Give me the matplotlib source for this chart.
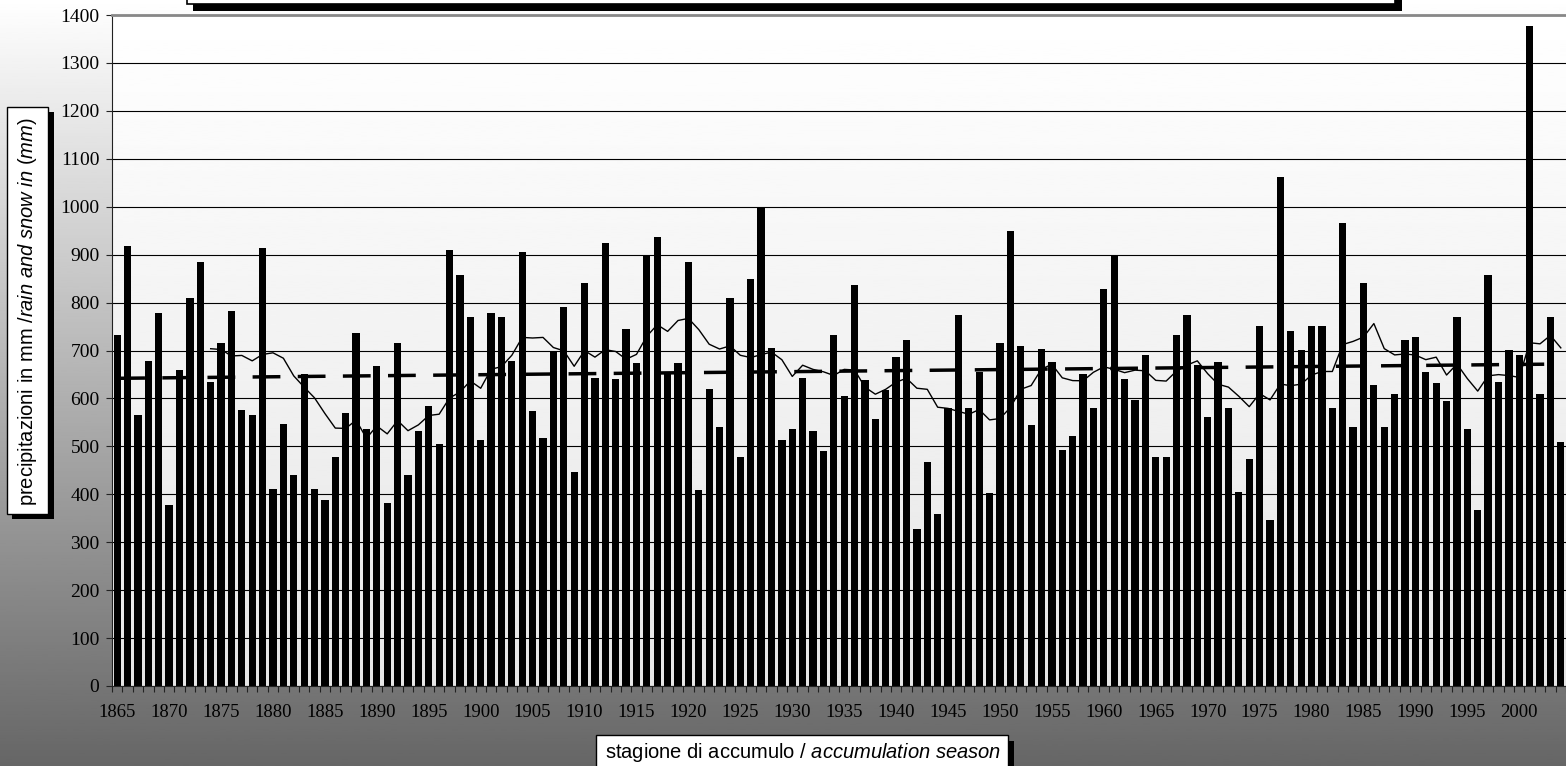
import numpy as np
import pandas as pd
import matplotlib
matplotlib.use('Agg')
import matplotlib.pyplot as plt
from matplotlib.patches import Rectangle

# Data: accumulation season precipitation (mm)
years = list(range(1865, 2005))
precip = [732, 917, 565, 678, 779, 378, 659, 809, 885, 635,
          716, 782, 576, 565, 913, 412, 546, 440, 650, 412,
          389, 478, 570, 736, 537, 667, 382, 716, 440, 533,
          585, 505, 909, 858, 770, 514, 779, 770, 678, 905,
          573, 517, 698, 790, 447, 841, 643, 925, 640, 744,
          674, 897, 936, 652, 674, 885, 409, 620, 540, 809,
          478, 850, 997, 705, 514, 537, 643, 533, 490, 732,
          605, 837, 639, 558, 617, 687, 721, 327, 467, 359,
          580, 774, 580, 655, 402, 716, 949, 709, 545, 704,
          677, 493, 522, 651, 580, 829, 897, 640, 597, 690,
          478, 478, 732, 774, 669, 561, 677, 580, 405, 474,
          751, 346, 1063, 740, 701, 751, 751, 580, 967, 540,
          841, 628, 540, 609, 721, 728, 655, 632, 594, 770,
          537, 367, 858, 635, 701, 690, 1378, 609, 770, 510]
tick_years = list(range(1865, 2001, 5))
y_ticks = list(range(0, 1401, 100))

ylabel = r"precipitazioni in mm /$\mathit{rain\ and\ snow\ in\ (mm)}$"
xlabel = r"stagione di accumulo / $\mathit{accumulation\ season}$"

plt.rcParams['mathtext.fontset'] = 'custom'
plt.rcParams['mathtext.it'] = 'Liberation Sans:italic'
plt.rcParams['mathtext.rm'] = 'Liberation Sans'

W, H = 1566, 766
fig = plt.figure(figsize=(W / 100, H / 100), dpi=100)


def px(x0, y0, x1, y1):
    # pixel box (origin top-left) -> figure fraction (x, y, w, h)
    return (x0 / W, 1 - y1 / H, (x1 - x0) / W, (y1 - y0) / H)


def box(x0, y0, x1, y1, **kw):
    r = px(x0, y0, x1, y1)
    fig.patches.append(Rectangle(r[:2], r[2], r[3], transform=fig.transFigure, **kw))


# figure background gradient
bg = fig.add_axes([0, 0, 1, 1], zorder=-10)
bg.imshow(np.linspace(1.0, 0.4, 256).reshape(-1, 1), cmap='gray', vmin=0, vmax=1,
          aspect='auto', extent=[0, 1, 0, 1])
bg.axis('off')

ax = fig.add_axes(px(112, 15, 1566, 686))
ax.set_facecolor('none')
ax.imshow(np.linspace(1.0, 0.9, 256).reshape(-1, 1), cmap='gray', vmin=0, vmax=1,
          aspect='auto', extent=[0, 1, 0, 1], transform=ax.transAxes, zorder=0)

x = np.arange(len(years))
ax.bar(x, precip, width=0.7, color='black', zorder=2)

# linear trend and 10-year moving average of the series
coef = np.polyfit(x, precip, 1)
ax.plot(x, np.polyval(coef, x), color='black', lw=2.5, dashes=(8, 5), zorder=3)
ma = pd.Series(precip).rolling(10).mean()
ax.plot(x, ma, color='black', lw=1.0, zorder=3)

ax.set_xlim(-0.5, len(years) - 0.5)
ax.set_ylim(0, 1400)
ax.set_yticks(y_ticks)
ax.yaxis.grid(True, color='black', lw=0.8, zorder=1)
ax.set_axisbelow(True)

ax.set_xticks([years.index(t) for t in tick_years])
ax.set_xticklabels([str(t) for t in tick_years])
ax.set_xticks(np.arange(-0.5, len(years)), minor=True)
ax.tick_params(axis='x', which='major', length=0, pad=13)
ax.tick_params(axis='x', which='minor', length=4, width=0.8, direction='out', color='#222222')
ax.tick_params(axis='y', length=4, width=0.8, pad=5, color='#222222')
for lab in ax.get_xticklabels():
    lab.set_fontfamily('Liberation Serif')
    lab.set_fontsize(13.5)
for lab in ax.get_yticklabels():
    lab.set_fontfamily('Liberation Serif')
    lab.set_fontsize(14)

ax.spines['right'].set_visible(False)
ax.spines['top'].set_color('#888888')
ax.spines['top'].set_linewidth(2)
ax.spines['left'].set_color('#222222')
ax.spines['bottom'].set_color('#222222')

# title box (cut at top)
box(193, -10, 1402, 11, facecolor='black', zorder=5)
box(187, -10, 1395, 4, facecolor='white', edgecolor='black', lw=1.2, zorder=6)

# y label box
box(12, 112, 54, 519, facecolor='black', zorder=5)
box(7, 107, 48, 514, facecolor='white', edgecolor='black', lw=1, zorder=6)
fig.text(28 / W, 1 - 312 / H, ylabel, rotation=90, ha='center', va='center',
         family='Liberation Sans', fontsize=14.5, zorder=7)

# x label box
box(602, 741, 1014, 780, facecolor='black', zorder=5)
box(596, 735, 1008, 780, facecolor='white', edgecolor='black', lw=1, zorder=6)
fig.text(803 / W, 1 - 753 / H, xlabel, ha='center', va='center',
         family='Liberation Sans', fontsize=14.5, zorder=7)

fig.savefig('out.png', dpi=100)
